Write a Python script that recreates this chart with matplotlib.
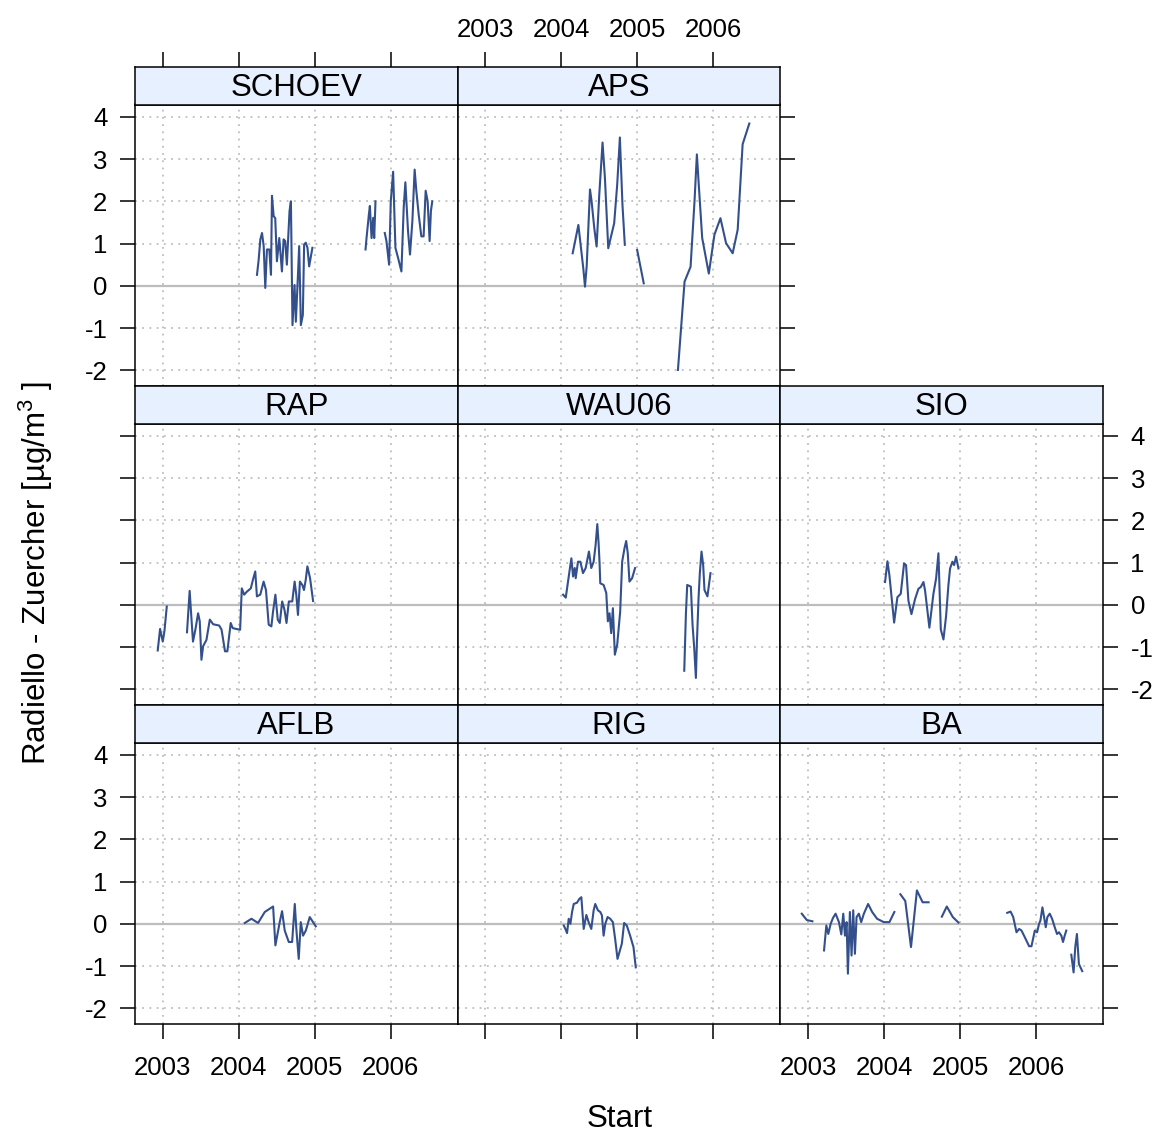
import numpy as np
import matplotlib
matplotlib.use("Agg")
import matplotlib.pyplot as plt

plt.rcParams['font.family'] = ['Liberation Sans', 'DejaVu Sans']
plt.rcParams['mathtext.fontset'] = 'custom'
plt.rcParams['mathtext.rm'] = 'Liberation Sans'
plt.rcParams['mathtext.it'] = 'Liberation Sans:italic'

nan = np.nan

# ---- data (decimal year, difference) ; nan = gap in measurements ----
SCHOEV_x = [2004.240, 2004.262, 2004.284, 2004.306, 2004.328, 2004.349, 2004.371, 2004.402,
            2004.424, 2004.437, 2004.459, 2004.480, 2004.502, 2004.533, 2004.568, 2004.590,
            2004.611, 2004.633, 2004.668, 2004.686, 2004.707, 2004.734, 2004.751, 2004.773,
            2004.795, 2004.817, 2004.843, 2004.860, 2004.882, 2004.904, 2004.926, 2004.969,
            nan,
            2005.668, 2005.681, 2005.712, 2005.725, 2005.747, 2005.769, 2005.782, 2005.799,
            nan,
            2005.921, 2005.943, 2005.978, 2006.000, 2006.031, 2006.061, 2006.096, 2006.140,
            2006.170, 2006.192, 2006.227, 2006.253, 2006.284, 2006.314, 2006.336, 2006.367,
            2006.402, 2006.432, 2006.459, 2006.485, 2006.511, 2006.528, 2006.546]
SCHOEV_y = [0.26, 0.62, 1.10, 1.25, 0.94, -0.05, 0.86, 0.86,
            0.26, 2.13, 1.65, 1.60, 0.58, 1.13, 0.34, 1.10,
            1.06, 0.50, 1.77, 2.00, -0.93, 0.02, -0.85, 0.02,
            0.94, -0.93, -0.69, 0.98, 1.02, 0.90, 0.46, 0.90,
            nan,
            0.86, 1.13, 1.69, 1.89, 1.13, 1.61, 1.13, 2.00,
            nan,
            1.25, 1.06, 0.50, 2.00, 2.70, 0.90, 0.66, 0.34,
            1.85, 2.45, 1.29, 0.74, 1.53, 2.75, 2.25, 1.69,
            1.17, 1.17, 2.25, 2.00, 1.06, 1.77, 2.00]

APS_x = [2004.148, 2004.223, 2004.288, 2004.310, 2004.332, 2004.376, 2004.397, 2004.432,
         2004.463, 2004.498, 2004.541, 2004.572, 2004.616, 2004.694, 2004.734, 2004.769,
         2004.803, 2004.834,
         nan,
         2004.996, 2005.083,
         nan,
         2005.533, 2005.620, 2005.699, 2005.751, 2005.782, 2005.808, 2005.852, 2005.939,
         2006.013, 2006.092, 2006.166, 2006.253, 2006.319, 2006.384, 2006.472]
APS_y = [0.77, 1.44, 0.41, -0.02, 0.45, 2.28, 2.00, 1.37,
         0.93, 2.16, 3.39, 2.56, 0.89, 1.48, 2.40, 3.51,
         1.92, 0.97,
         nan,
         0.85, 0.06,
         nan,
         -1.99, 0.10, 0.45, 2.00, 3.11, 2.36, 1.13, 0.29,
         1.21, 1.60, 1.01, 0.77, 1.33, 3.35, 3.84]

RAP_x = [2002.934, 2002.965, 2003.000, 2003.022, 2003.053,
         nan,
         2003.319, 2003.354, 2003.376, 2003.398, 2003.429, 2003.465, 2003.487, 2003.509,
         2003.531, 2003.575, 2003.619, 2003.664, 2003.743, 2003.774, 2003.819, 2003.850,
         2003.894, 2003.920, 2003.965, 2004.018, 2004.040, 2004.071, 2004.106, 2004.159,
         2004.186, 2004.217, 2004.239, 2004.283, 2004.327, 2004.358, 2004.394, 2004.429,
         2004.451, 2004.482, 2004.513, 2004.540, 2004.571, 2004.602, 2004.628, 2004.659,
         2004.704, 2004.735, 2004.757, 2004.779, 2004.805, 2004.836, 2004.858, 2004.881,
         2004.903, 2004.938, 2004.978]
RAP_y = [-1.08, -0.57, -0.87, -0.63, -0.04,
         nan,
         -0.65, 0.33, -0.28, -0.87, -0.59, -0.20, -0.39, -1.30,
         -0.98, -0.83, -0.35, -0.46, -0.49, -0.59, -1.10, -1.10,
         -0.43, -0.55, -0.57, -0.59, 0.39, 0.24, 0.31, 0.39,
         0.59, 0.79, 0.20, 0.24, 0.55, 0.35, -0.47, -0.51,
         -0.16, 0.24, -0.35, -0.43, 0.08, -0.12, -0.43, 0.08,
         0.08, 0.55, 0.24, -0.24, 0.55, 0.47, 0.35, 0.59,
         0.91, 0.63, 0.09]

WAU06_x = [2004.022, 2004.057, 2004.087, 2004.109, 2004.131, 2004.153, 2004.175, 2004.188,
           2004.218, 2004.249, 2004.284, 2004.319, 2004.362, 2004.393, 2004.424, 2004.450,
           2004.472, 2004.489, 2004.502, 2004.511, 2004.555, 2004.590, 2004.611, 2004.633,
           2004.655, 2004.677, 2004.703, 2004.734, 2004.773, 2004.799, 2004.830, 2004.852,
           2004.873, 2004.895, 2004.930, 2004.969,
           nan,
           2005.616, 2005.638, 2005.655, 2005.703, 2005.725, 2005.747, 2005.769, 2005.782,
           2005.804, 2005.821, 2005.843, 2005.865, 2005.882, 2005.921, 2005.961]
WAU06_y = [0.24, 0.17, 0.55, 0.83, 1.10, 0.67, 0.87, 0.63,
           1.02, 1.02, 0.75, 0.87, 1.26, 0.87, 1.02, 1.42,
           1.91, 1.46, 0.98, 0.51, 0.47, 0.28, -0.39, -0.20,
           -0.67, -0.08, -1.18, -0.94, -0.16, 1.02, 1.34, 1.51,
           1.22, 0.55, 0.63, 0.87,
           nan,
           -1.56, -0.20, 0.47, 0.43, -0.47, -1.02, -1.73, -0.91,
           0.16, 0.75, 1.26, 0.94, 0.35, 0.20, 0.75]

SIO_x = [2004.013, 2004.044, 2004.070, 2004.101, 2004.132, 2004.175, 2004.219, 2004.263,
         2004.289, 2004.320, 2004.360, 2004.408, 2004.452, 2004.482, 2004.518, 2004.539,
         2004.596, 2004.649, 2004.684, 2004.715, 2004.746, 2004.781, 2004.816, 2004.846,
         2004.868, 2004.899, 2004.921, 2004.947, 2004.978]
SIO_y = [0.54, 1.03, 0.70, 0.14, -0.42, 0.18, 0.26, 0.98,
         0.94, 0.10, -0.22, 0.14, 0.38, 0.42, 0.54, 0.34,
         -0.54, 0.26, 0.62, 1.22, -0.58, -0.82, -0.26, 0.46,
         0.86, 1.02, 0.94, 1.14, 0.86]

AFLB_x = [2004.079, 2004.167, 2004.254, 2004.342, 2004.452, 2004.482, 2004.539, 2004.570,
          2004.605, 2004.658, 2004.702, 2004.737, 2004.759, 2004.789, 2004.816, 2004.846,
          2004.882, 2004.934, 2005.013]
AFLB_y = [0.02, 0.12, 0.02, 0.28, 0.41, -0.51, 0.04, 0.30,
          -0.16, -0.43, -0.43, 0.47, -0.16, -0.83, 0.04, -0.28,
          -0.16, 0.16, -0.06]

RIG_x = [2004.031, 2004.052, 2004.074, 2004.096, 2004.118, 2004.140, 2004.162, 2004.205,
         2004.236, 2004.262, 2004.293, 2004.328, 2004.358, 2004.393, 2004.424, 2004.445,
         2004.480, 2004.511, 2004.533, 2004.555, 2004.577, 2004.607, 2004.642, 2004.677,
         2004.707, 2004.738, 2004.795, 2004.825, 2004.860, 2004.904, 2004.948, 2004.978]
RIG_y = [-0.04, -0.12, -0.22, 0.12, 0.00, 0.28, 0.47, 0.50,
         0.59, 0.63, -0.12, 0.21, 0.04, -0.12, 0.32, 0.47,
         0.32, 0.28, 0.20, -0.28, 0.00, 0.16, 0.12, 0.04,
         -0.36, -0.83, -0.47, 0.02, -0.04, -0.28, -0.55, -1.03]

BA_x = [2002.917, 2002.983, 2003.057,
        nan,
        2003.210, 2003.240, 2003.266, 2003.297, 2003.328, 2003.362, 2003.406, 2003.437,
        2003.463, 2003.485, 2003.507, 2003.524, 2003.550, 2003.572, 2003.594, 2003.616,
        2003.638, 2003.668, 2003.699, 2003.734, 2003.790, 2003.843, 2003.908, 2003.996,
        2004.070, 2004.135,
        nan,
        2004.214, 2004.279, 2004.354, 2004.432, 2004.507, 2004.585,
        nan,
        2004.760, 2004.825, 2004.904, 2004.978,
        nan,
        2005.620, 2005.664, 2005.699, 2005.742, 2005.777, 2005.808, 2005.852, 2005.908,
        2005.939, 2005.983, 2006.013, 2006.039, 2006.057, 2006.083, 2006.105, 2006.127,
        2006.148, 2006.179, 2006.210, 2006.245, 2006.275, 2006.301, 2006.332, 2006.354,
        2006.376, 2006.397,
        nan,
        2006.463, 2006.493, 2006.515, 2006.537, 2006.563, 2006.607]
BA_y = [0.24, 0.09, 0.06,
        nan,
        -0.63, -0.04, -0.24, 0.00, 0.14, 0.24, 0.04, -0.25,
        0.24, -0.28, 0.04, -1.18, 0.28, -0.75, 0.32, -0.71,
        0.16, 0.24, 0.04, 0.24, 0.47, 0.28, 0.12, 0.04,
        0.04, 0.28,
        nan,
        0.70, 0.54, -0.55, 0.79, 0.51, 0.51,
        nan,
        0.17, 0.41, 0.16, 0.03,
        nan,
        0.26, 0.29, 0.16, -0.20, -0.12, -0.16, -0.32, -0.53,
        -0.53, -0.16, -0.20, 0.00, 0.08, 0.39, 0.16, -0.08,
        0.16, 0.24, 0.12, -0.08, -0.24, -0.20, -0.28, -0.43,
        -0.28, -0.16,
        nan,
        -0.73, -1.15, -0.55, -0.24, -0.95, -1.12]

year_ticks = [2003, 2004, 2005, 2006]
year_labels = ["2003", "2004", "2005", "2006"]
y_ticks = [-2, -1, 0, 1, 2, 3, 4]
y_labels = ["-2", "-1", "0", "1", "2", "3", "4"]

# panels: (name, x, y, row(0=top), col)
panels = [
    ("SCHOEV", SCHOEV_x, SCHOEV_y, 0, 0),
    ("APS", APS_x, APS_y, 0, 1),
    ("RAP", RAP_x, RAP_y, 1, 0),
    ("WAU06", WAU06_x, WAU06_y, 1, 1),
    ("SIO", SIO_x, SIO_y, 1, 2),
    ("AFLB", AFLB_x, AFLB_y, 2, 0),
    ("RIG", RIG_x, RIG_y, 2, 1),
    ("BA", BA_x, BA_y, 2, 2),
]

W, H = 1159, 1133
fig = plt.figure(figsize=(W / 100, H / 100), dpi=100)

col_left = 135.0
col_w = (1103.0 - 135.0) / 3
top0 = 67.0
strip_h = 37.5
panel_h = 281.5
row_h = strip_h + panel_h

LINE_COL = '#34508C'
GRID_COL = '#BEBEBE'
STRIP_COL = '#E6F0FF'
TICK_FS = 18.5
LAB_FS = 22.5
STRIP_FS = 22.5
TL = 10.8
FRAME_LW = 1.1

xlim = (2002.635, 2006.88)
ylim = (-2.37, 4.29)

for name, xs, ys, r, c in panels:
    l = col_left + c * col_w
    strip_top = top0 + r * row_h
    p_top = strip_top + strip_h
    p_bot = p_top + panel_h
    ax = fig.add_axes([l / W, 1 - p_bot / H, col_w / W, panel_h / H])
    sax = fig.add_axes([l / W, 1 - p_top / H, col_w / W, strip_h / H], sharex=ax)

    ax.set_xlim(*xlim)
    ax.set_ylim(*ylim)
    for v in year_ticks:
        ax.axvline(v, color=GRID_COL, lw=1.3, ls=(0, (1, 3)), zorder=1)
    for v in y_ticks:
        ax.axhline(v, color=GRID_COL, lw=1.3, ls=(0, (1, 3)), zorder=1)
    ax.axhline(0, color='#BDBDBD', lw=1.6, zorder=2)
    ax.plot(xs, ys, color=LINE_COL, lw=1.5, zorder=3)

    for s in ax.spines.values():
        s.set_linewidth(FRAME_LW)
    for s in sax.spines.values():
        s.set_linewidth(FRAME_LW)

    # y axis ticks
    ax.set_yticks(y_ticks)
    left_lab = (c == 0) and (r in (0, 2))
    right_tick = (r == 0 and c == 1) or c == 2
    right_lab = (r == 1 and c == 2)
    ax.tick_params(axis='y', which='both', direction='out', length=TL, width=FRAME_LW,
                   labelsize=TICK_FS, pad=9,
                   left=(c == 0), labelleft=left_lab,
                   right=right_tick, labelright=right_lab)
    if left_lab or right_lab:
        ax.set_yticklabels(y_labels)

    # x axis ticks (bottom)
    ax.set_xticks(year_ticks)
    bottom = (r == 2)
    bottom_lab = bottom and c in (0, 2)
    ax.tick_params(axis='x', which='both', direction='out', length=TL, width=FRAME_LW,
                   labelsize=TICK_FS, pad=12,
                   bottom=bottom, labelbottom=bottom_lab, top=False, labeltop=False)
    if bottom_lab:
        ax.set_xticklabels(year_labels)

    # strip
    sax.set_facecolor(STRIP_COL)
    sax.set_yticks([])
    top_row = (r == 0)
    top_lab = top_row and c == 1
    sax.tick_params(axis='x', which='both', direction='out', length=TL, width=FRAME_LW,
                    labelsize=TICK_FS, pad=7,
                    bottom=False, labelbottom=False, top=top_row, labeltop=top_lab)
    sax.text(0.5, 0.45, name, transform=sax.transAxes, ha='center', va='center',
             fontsize=STRIP_FS)

fig.text(620 / W, 1 - 1119 / H, "Start", ha='center', va='center', fontsize=LAB_FS)
fig.text(36 / W, 1 - 573 / H, "Radiello - Zuercher [µg/m$^3$ ]", ha='center', va='center',
         rotation=90, fontsize=LAB_FS)

fig.savefig("out.png", dpi=100)
